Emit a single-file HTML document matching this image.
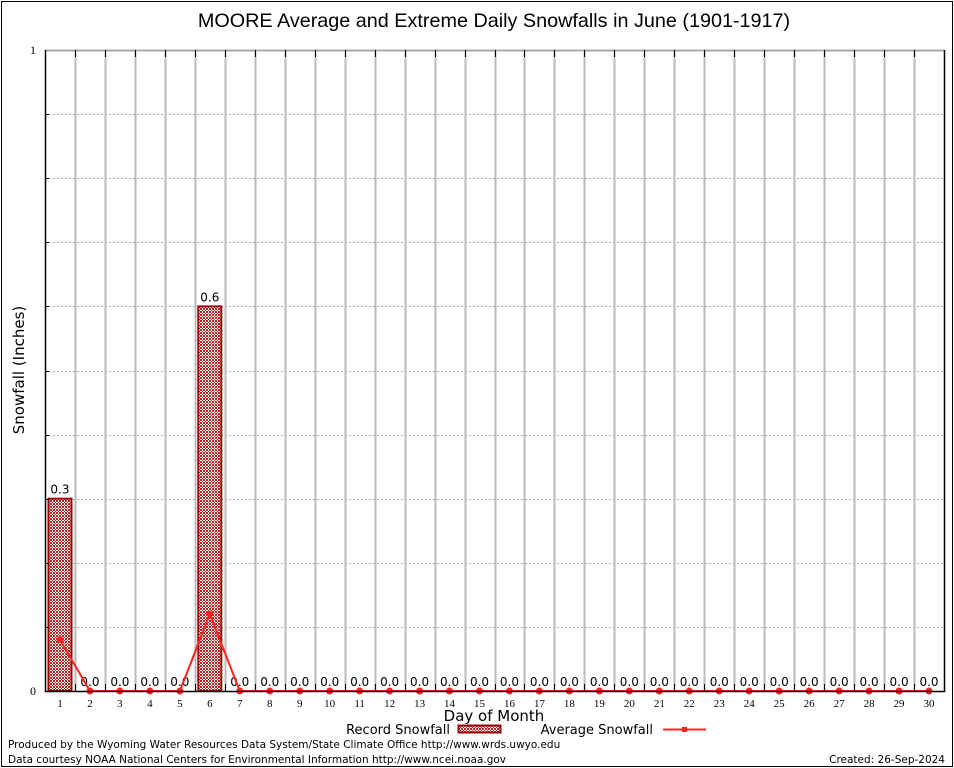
<!DOCTYPE html>
<html><head><meta charset="utf-8"><style>
html,body{margin:0;padding:0;background:#fff}
svg{display:block;font-family:"DejaVu Sans","Liberation Sans",sans-serif}
</style></head><body>
<svg id="c" width="954" height="768">
<defs>
<pattern id="hatch" width="3" height="3" patternUnits="userSpaceOnUse">
<rect width="3" height="3" fill="#fff"/>
<rect width="1" height="1" fill="#b22"/><rect x="2" y="0" width="1" height="1" fill="#b22"/>
<rect x="1" y="1" width="1" height="1" fill="#b22"/>
<rect x="0" y="2" width="1" height="1" fill="#b22"/><rect x="2" y="2" width="1" height="1" fill="#b22"/>
</pattern>
</defs>
<rect x="1.5" y="1.5" width="951" height="765" fill="none" stroke="#000"/>
<text x="494" y="27" font-size="19.8" text-anchor="middle" font-family="Liberation Sans, sans-serif">MOORE Average and Extreme Daily Snowfalls in June (1901-1917)</text>
<text transform="translate(24,370) rotate(-90)" font-size="15" text-anchor="middle">Snowfall (Inches)</text>
<text x="494" y="721" font-size="15" text-anchor="middle">Day of Month</text>
<g id="grid"></g><g id="bars"></g><g id="line"></g><g id="axes"></g>
<g>
<text x="450" y="734" font-size="13" text-anchor="end">Record Snowfall</text>
<rect x="458.5" y="725.5" width="42" height="7" fill="url(#hatch)" stroke="#900" stroke-width="2"/>
<text x="653" y="734" font-size="13" text-anchor="end">Average Snowfall</text>
<line x1="663" y1="729.5" x2="706" y2="729.5" stroke="#f22" stroke-width="2"/>
<rect x="682" y="727" width="5" height="5" fill="#f22"/>
</g>
<text x="8" y="748" font-size="10.5">Produced by the Wyoming Water Resources Data System/State Climate Office http://www.wrds.uwyo.edu</text>
<text x="8" y="763" font-size="10.5">Data courtesy NOAA National Centers for Environmental Information http://www.ncei.noaa.gov</text>
<text x="945" y="763" font-size="10.5" text-anchor="end">Created: 26-Sep-2024</text>
</svg>
<script>
const days=[1,2,3,4,5,6,7,8,9,10,11,12,13,14,15,16,17,18,19,20,21,22,23,24,25,26,27,28,29,30];
const recordValues=[0.3,0,0,0,0,0.6,0,0,0,0,0,0,0,0,0,0,0,0,0,0,0,0,0,0,0,0,0,0,0,0];
const averageValues=[0.08,0,0,0,0,0.12,0,0,0,0,0,0,0,0,0,0,0,0,0,0,0,0,0,0,0,0,0,0,0,0];
const yTicks=[0,1];
const L=45,R=944,T=50,B=691;
const x=d=>L+(d-0.5)*(R-L)/30;
const y=v=>B-v*(B-T);
const NS="http://www.w3.org/2000/svg";
function mk(tag,attrs,parent,text){const e=document.createElementNS(NS,tag);for(const k in attrs)e.setAttribute(k,attrs[k]);if(text!==undefined)e.textContent=text;document.getElementById(parent).appendChild(e);return e;}
for(let i=1;i<10;i++){const yy=Math.round(y(i/10))+0.5;
const g=mk('line',{x1:L,x2:R,y1:yy,y2:yy,stroke:'#aaa','stroke-dasharray':'2,2'},'grid');


const t=mk('line',{x1:L,x2:L+4,y1:yy,y2:yy,stroke:'#000'},'axes');

}
for(let i=1;i<30;i++){const xx=Math.round(L+i*(R-L)/30)+0.5;
const g=mk('line',{x1:xx,x2:xx,y1:T,y2:B,stroke:'#bbb','stroke-width':2},'grid');


const t1=mk('line',{x1:xx,x2:xx,y1:T,y2:T+7,stroke:'#000'},'axes');


const t2=mk('line',{x1:xx,x2:xx,y1:B-7,y2:B,stroke:'#000'},'axes');

}
mk('line',{x1:L,x2:R,y1:T+0.5,y2:T+0.5,stroke:'#aaa','stroke-width':2},'grid');
days.forEach((d,i)=>{const v=recordValues[i];
if(v>0){const b=mk('rect',{x:x(d)-11.5,y:y(v),width:23,height:B-y(v),fill:'url(#hatch)',stroke:'#900','stroke-width':2},'bars');

}
const lb=mk('text',{x:x(d),y:(v>0?y(v):B)-5,'font-size':12,'text-anchor':'middle'},'bars',v.toFixed(1));


const xl=mk('text',{x:x(d),y:B+16,'font-size':11,'text-anchor':'middle','font-family':'Liberation Serif, serif'},'axes',String(d));

});
const pl=mk('polyline',{points:days.map((d,i)=>x(d)+','+y(averageValues[i])).join(' '),fill:'none',stroke:'#f22','stroke-width':2},'line');


days.forEach((d,i)=>{const c=mk('circle',{cx:x(d),cy:y(averageValues[i]),r:3.5,fill:'#f22'},'line');

});
const ax=mk('path',{d:`M${L+0.5},${T} V${B+0.5} H${R+0.5} V${T}`,fill:'none',stroke:'#000','stroke-width':1.5},'axes');


yTicks.forEach(v=>{const t=mk('text',{x:L-9,y:y(v)+4,'font-size':12,'text-anchor':'end','font-family':'Liberation Serif, serif'},'axes',String(v));

});
</script>
</body></html>
